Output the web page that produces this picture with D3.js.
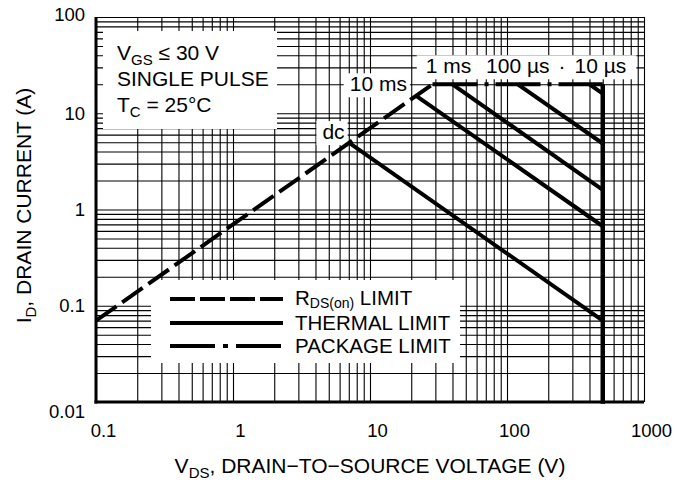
<!DOCTYPE html>
<html>
<head>
<meta charset="utf-8">
<script src="https://cdn.jsdelivr.net/npm/d3@7"></script>
<style>
  html, body { margin: 0; padding: 0; background: #fff; }
  svg { display: block; font-family: "Liberation Sans", Arial, Helvetica, sans-serif; }
</style>
</head>
<body>
<svg id="chart" width="679" height="483"></svg>
<script>
// ---------- data ----------
const xTickValues = [0.1, 1, 10, 100, 1000];
const xTickLabels = ["0.1", "1", "10", "100", "1000"];
const yTickValues = [0.01, 0.1, 1, 10, 100];
const yTickLabels = ["0.01", "0.1", "1", "10", "100"];

// R_DS(on) limit (dashed)
const rdsV = [0.1, 28.6];
const rdsI = [0.07, 20];
// package limit (dash-dot), 20 A
const pkgV = [28.6, 500];
const pkgI = [20, 20];
// voltage limit (solid vertical)
const vmaxV = [500, 500];
const vmaxI = [20, 0.0096];

// thermal limit curves
const pulseNames  = ["dc", "10 ms", "1 ms", "100 \u00B5s", "10 \u00B5s"];
const pulseStartV = [7.1, 22, 40, 120, 400];
const pulseStartI = [4.9, 15, 20, 20, 20];
const pulseEndV   = [500, 500, 500, 500, 500];
const pulseEndI   = [0.07, 0.67, 1.6, 4.85, 16];

const legendLabels = ["R", "THERMAL LIMIT", "PACKAGE LIMIT"];

// ---------- layout ----------
const svg = d3.select("#chart");
const L = 96, R = 644, T = 17, B = 402;
const x = d3.scaleLog().domain([0.1, 1000]).range([L, R]);
const y = d3.scaleLog().domain([0.01, 100]).range([B, T]);

// ---------- grid ----------
const gridX = svg.append("g").attr("transform", `translate(0,${B})`)
  .call(d3.axisBottom(x).tickValues(x.ticks()).tickSize(-(B - T)).tickFormat(""));
gridX.select(".domain").remove();
gridX.selectAll("line").attr("stroke", "#000").attr("stroke-width", 1.1);

const gridY = svg.append("g").attr("transform", `translate(${L},0)`)
  .call(d3.axisLeft(y).tickValues(y.ticks()).tickSize(-(R - L)).tickFormat(""));
gridY.select(".domain").remove();
gridY.selectAll("line").attr("stroke", "#000").attr("stroke-width", 1.1);

// thick left / bottom frame
svg.append("line").attr("x1", L).attr("x2", L).attr("y1", T).attr("y2", B + 1.5)
  .attr("stroke", "#000").attr("stroke-width", 3);
svg.append("line").attr("x1", L - 1.5).attr("x2", R).attr("y1", B).attr("y2", B)
  .attr("stroke", "#000").attr("stroke-width", 3);

// ---------- tick labels ----------
const xAx = svg.append("g").attr("transform", `translate(0,${B})`)
  .call(d3.axisBottom(x).tickValues(xTickValues).tickSize(0)
    .tickFormat((d, i) => xTickLabels[i]));
xAx.select(".domain").remove();
xAx.selectAll("text").attr("dy", null).attr("y", 35).attr("dx", 7)
  .attr("font-size", 18.5).attr("font-family", "Liberation Sans, Arial, sans-serif").attr("fill", "#000");

const yAx = svg.append("g").attr("transform", `translate(${L},0)`)
  .call(d3.axisLeft(y).tickValues(yTickValues).tickSize(0)
    .tickFormat((d, i) => yTickLabels[i]));
yAx.select(".domain").remove();
yAx.selectAll("text").attr("x", -11)
  .attr("dy", d => d === 0.01 ? "0.85em" : (d === 100 ? "0.2em" : "0.33em"))
  .attr("font-size", 18.5).attr("font-family", "Liberation Sans, Arial, sans-serif").attr("fill", "#000");

// ---------- axis titles ----------
const xt = svg.append("text").attr("x", (L + R) / 2).attr("y", 473)
  .attr("text-anchor", "middle").attr("font-size", 21);
xt.append("tspan").text("V");
xt.append("tspan").attr("font-size", 15).attr("dy", 5).text("DS");
xt.append("tspan").attr("dy", -5).text(", DRAIN\u2212TO\u2212SOURCE VOLTAGE (V)");

const yt = svg.append("text").attr("transform", `translate(31,${(T + B) / 2 - 4}) rotate(-90)`)
  .attr("text-anchor", "middle").attr("font-size", 21);
yt.append("tspan").text("I");
yt.append("tspan").attr("font-size", 15).attr("dy", 5).text("D");
yt.append("tspan").attr("dy", -5).text(", DRAIN CURRENT (A)");

// ---------- annotation box ----------
svg.append("rect").attr("x", 103).attr("y", 31).attr("width", 174).attr("height", 98).attr("fill", "#fff");
const ann = svg.append("g").attr("font-size", 21);
const a1 = ann.append("text").attr("x", 117).attr("y", 60);
a1.append("tspan").text("V");
a1.append("tspan").attr("font-size", 15).attr("dy", 5).text("GS");
a1.append("tspan").attr("dy", -5).text(" \u2264 30 V");
ann.append("text").attr("x", 117).attr("y", 86).text("SINGLE PULSE");
const a3 = ann.append("text").attr("x", 117).attr("y", 112);
a3.append("tspan").text("T");
a3.append("tspan").attr("font-size", 15).attr("dy", 5).text("C");
a3.append("tspan").attr("dy", -5).text(" = 25\u00B0C");

// ---------- legend ----------
svg.append("rect").attr("x", 151).attr("y", 280).attr("width", 309).attr("height", 83).attr("fill", "#fff");
const legY = [299, 323, 346];
const legDash = ["25,5", null, "45,8,5,8"];
legY.forEach((ly, i) => {
  svg.append("line").attr("x1", 170).attr("x2", 283).attr("y1", ly).attr("y2", ly)
    .attr("stroke", "#000").attr("stroke-width", 4)
    .attr("stroke-dasharray", legDash[i]);
});
const lg1 = svg.append("text").attr("x", 295).attr("y", legY[0] + 6).attr("font-size", 20.5);
lg1.append("tspan").text(legendLabels[0]);
lg1.append("tspan").attr("font-size", 14).attr("dy", 3).text("DS(on)");
lg1.append("tspan").attr("dy", -3).text(" LIMIT");
svg.append("text").attr("x", 295).attr("y", legY[1] + 7).attr("font-size", 20.5).text(legendLabels[1]);
svg.append("text").attr("x", 295).attr("y", legY[2] + 7).attr("font-size", 20.5).text(legendLabels[2]);

// ---------- curve labels (with white boxes) ----------
const labG = svg.append("g").attr("font-size", 21);
const labBoxG = labG.append("g");
const labTxt = labG.append("g");
const labelPos = [
  {dx: -5, dy: -4, anchor: "end"},
  {dx: -10, dy: -5, anchor: "end"},
  {dx: -4, dy: -11, anchor: "middle"},
  {dx: 0, dy: -11, anchor: "middle"},
  {dx: 11, dy: -11, anchor: "middle"}
];
const labNodes = pulseNames.map((n, i) =>
  labTxt.append("text")
    .attr("x", x(pulseStartV[i]) + labelPos[i].dx)
    .attr("y", y(pulseStartI[i]) + labelPos[i].dy)
    .attr("text-anchor", labelPos[i].anchor)
    .text(n));
const bb = labNodes.map(t => t.node().getBBox());
[0, 1].forEach(i => {
  labBoxG.append("rect").attr("x", bb[i].x - 6).attr("y", bb[i].y + 1)
    .attr("width", bb[i].width + 9).attr("height", bb[i].height + 1).attr("fill", "#fff");
});
const bx0 = bb[2].x - 9, bx1 = bb[4].x + bb[4].width + 10;
labBoxG.append("rect").attr("x", bx0).attr("y", bb[2].y + 1)
  .attr("width", bx1 - bx0).attr("height", bb[2].height + 1).attr("fill", "#fff");
labTxt.append("text").attr("x", (bb[3].x + bb[3].width + bb[4].x) / 2)
  .attr("y", y(20) - 11).attr("text-anchor", "middle").text("\u00B7");

// ---------- curves ----------
const line = d3.line().x(d => x(d[0])).y(d => y(d[1]));
const curves = svg.append("g").attr("fill", "none").attr("stroke", "#000");

curves.append("path").datum(rdsV.map((v, i) => [v, rdsI[i]])).attr("d", line)
  .attr("stroke-width", 4).attr("stroke-dasharray", "25,7");
curves.append("path").datum(pkgV.map((v, i) => [v, pkgI[i]])).attr("d", line)
  .attr("stroke-width", 4).attr("stroke-dasharray", "45,7,4,7");
curves.append("path").datum(vmaxV.map((v, i) => [v, vmaxI[i]])).attr("d", line)
  .attr("stroke-width", 4.5);
pulseNames.forEach((n, i) => {
  curves.append("path")
    .datum([[pulseStartV[i], pulseStartI[i]], [pulseEndV[i], pulseEndI[i]]])
    .attr("d", line).attr("stroke-width", 4);
});
</script>
</body>
</html>
